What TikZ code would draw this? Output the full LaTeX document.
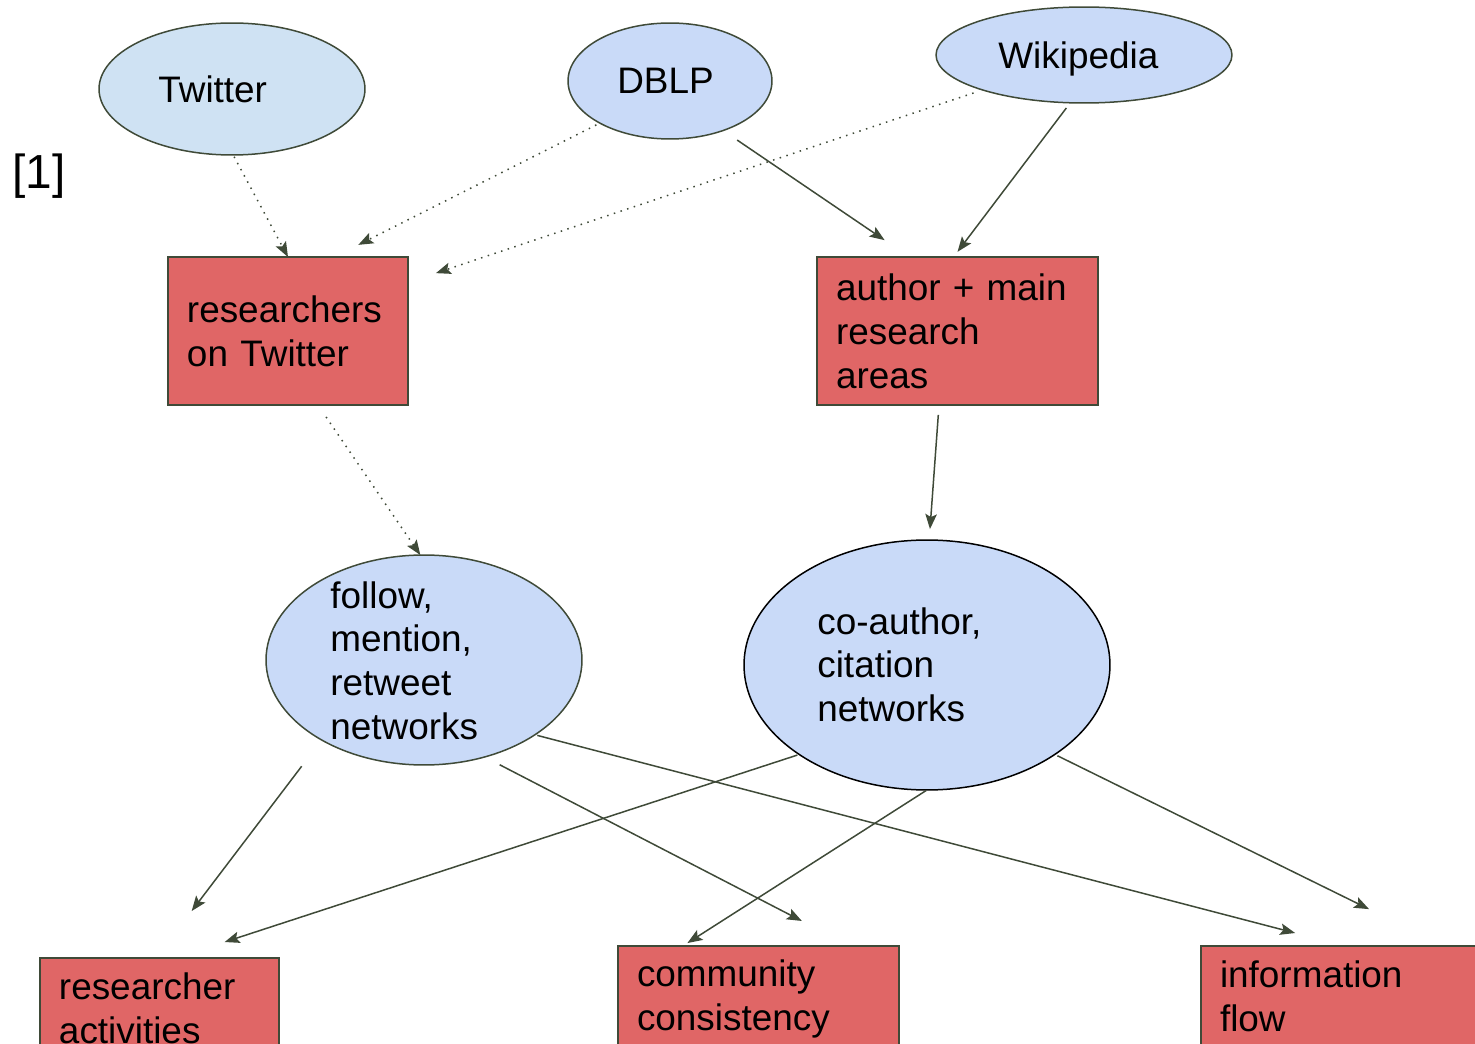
\documentclass[tikz,border=0pt]{standalone}
\usepackage{fontspec}
\setmainfont{Liberation Sans}
\usetikzlibrary{shapes.geometric,arrows.meta}
\definecolor{srcblue}{HTML}{C9DAF8}
\definecolor{twblue}{HTML}{CFE2F3}
\definecolor{boxred}{HTML}{E06666}
\definecolor{edgegray}{HTML}{3F4A38}
\tikzset{
  src/.style={ellipse, draw=edgegray, fill=srcblue, line width=0.03cm, inner sep=0, outer sep=0},
  res/.style={rectangle, draw=edgegray, fill=boxred, line width=0.03cm, anchor=north west,
    align=left, inner xsep=0.38cm, inner ysep=0, outer sep=0, font=\fontsize{21}{25}\selectfont},
  lbl/.style={align=left, text width=8cm, inner sep=0, anchor=base west, font=\fontsize{21}{25}\selectfont},
  link/.style={draw=edgegray, line width=0.03cm, -{Stealth[length=0.3cm,width=0.23cm,inset=0.06cm]}},
  weak/.style={link, dash pattern=on 0.03cm off 0.11cm}
}
\begin{document}
\begin{tikzpicture}[x=0.02cm, y=-0.02cm]
\useasboundingbox (0,0) rectangle (1475,1044);

% data sources
\node[src, fill=twblue, minimum width=5.32cm, minimum height=2.64cm] (twitter) at (232,89) {};
\node[src, minimum width=4.08cm, minimum height=2.32cm] (dblp) at (670,81) {};
\node[src, minimum width=5.92cm, minimum height=1.92cm] (wiki) at (1084,55) {};
\node[lbl] (twitter-t) at (158,103) {Twitter};
\node[lbl] (dblp-t) at (617,94) {DBLP};
\node[lbl] (wiki-t) at (998,69) {Wikipedia};

\node[inner sep=0, anchor=base west, font=\fontsize{27.2}{32}\selectfont] (ref) at (12,189) {[1]};

% collected data
\node[res, minimum width=4.8cm, minimum height=2.96cm, text width=4.04cm] (rot) at (168,257) {researchers\\on Twitter};
\node[res, minimum width=5.62cm, minimum height=2.96cm, text width=4.86cm] (area) at (817,257) {author + main\\research\\areas};

% networks
\node[src, minimum width=6.32cm, minimum height=4.2cm] (follow) at (424,660) {};
\node[src, draw=black, minimum width=7.32cm, minimum height=5cm] (coauth) at (927,665) {};
\node[lbl] (follow-t) at (330,608) {follow,\\mention,\\retweet\\networks};
\node[lbl] (coauth-t) at (817,634) {co-author,\\citation\\networks};

% analyses
\node[res, minimum width=4.78cm, minimum height=2cm, text width=4.02cm] (act) at (40,958) {researcher\\activities};
\node[res, minimum width=5.62cm, minimum height=2.12cm, text width=4.86cm] (comm) at (618,946) {community\\consistency};
\node[res, minimum width=5.62cm, minimum height=2cm, text width=4.86cm] (flow) at (1201,946) {information\\flow};

\draw[weak, shorten <=0.04cm] (twitter.-89) -- (rot.north);
\draw[weak, shorten <=0.08cm, shorten >=0.54cm] (dblp.-149) -- (rot.58);
\draw[weak, shorten <=0.19cm, shorten >=0.59cm] (wiki.-161) -- (rot.22);
\draw[link, shorten <=0.34cm, shorten >=0.6cm] (dblp.-43) -- (area.123);
\draw[link, shorten <=0.13cm, shorten >=0.13cm] (wiki.-106) -- (area.93.5);
\draw[weak, shorten <=0.29cm] (rot.-68) -- (follow.92);
\draw[link, shorten <=0.2cm, shorten >=0.22cm] (area.-104) -- (coauth.89);
\draw[link, shorten <=0.66cm, shorten >=1.18cm] (follow.-142) -- (act.94);
\draw[link, shorten <=0.34cm, shorten >=1.09cm] (follow.-58) -- (comm.30.6);
\draw[link, shorten <=0.05cm, shorten >=1.03cm] (follow.-34) -- (flow.86);
\draw[link, shorten <=0.04cm, shorten >=1.03cm] (coauth.-145) -- (act.72);
\draw[link, shorten <=0.02cm, shorten >=0.11cm] (coauth.-90) -- (comm.145.6);
\draw[link, shorten <=0.06cm, shorten >=1.67cm] (coauth.-35) -- (flow.26);
\end{tikzpicture}
\end{document}
